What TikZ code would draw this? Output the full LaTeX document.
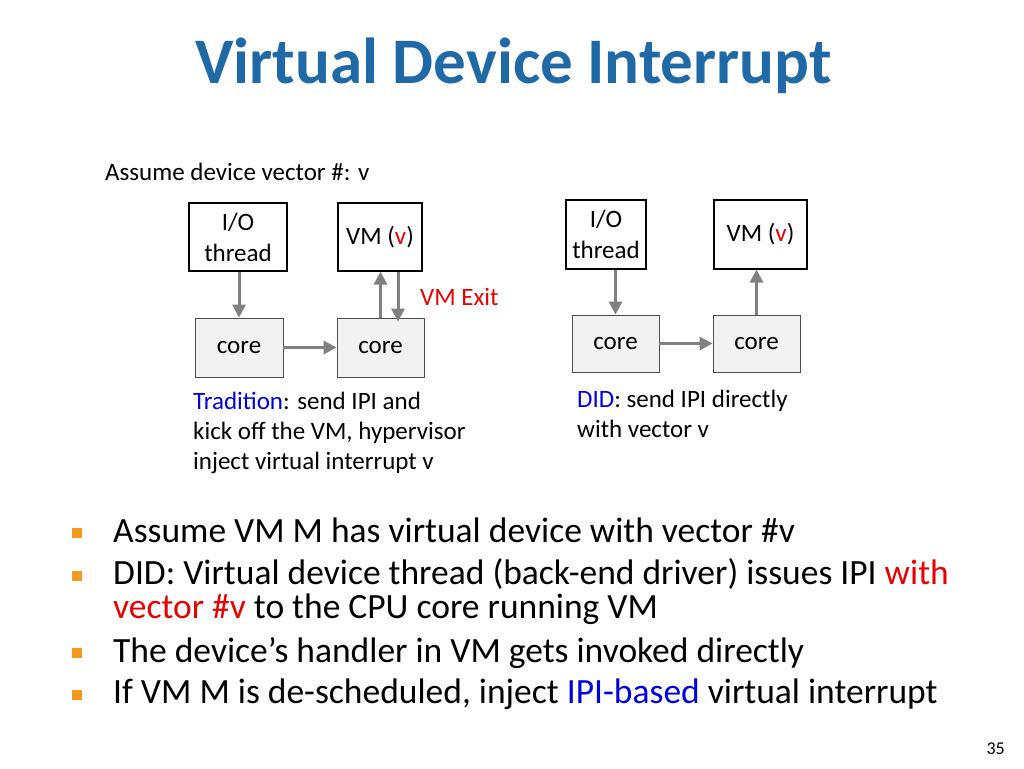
\documentclass[tikz,border=0pt]{standalone}
\usepackage{fontspec}
\setmainfont{Carlito}
\usetikzlibrary{arrows.meta}
\definecolor{titleblue}{RGB}{31,106,166}
\definecolor{slidered}{RGB}{230,0,0}
\definecolor{slideblue}{RGB}{0,0,220}
\definecolor{arrowgray}{RGB}{128,128,128}
\definecolor{corefill}{RGB}{242,242,242}
\definecolor{bulletorange}{RGB}{245,152,32}

\begin{document}
\begin{tikzpicture}[x=1pt,y=-1pt,>={Triangle[length=13pt,width=13pt]},
    box/.style={draw=black,line width=1.2pt,fill=white,align=center,inner sep=0pt,font=\fontsize{25}{31}\selectfont},
    corebox/.style={box,draw=black!70,line width=0.8pt,fill=corefill},
    link/.style={->,draw=arrowgray,line width=3pt},
    txt/.style={anchor=base west,inner sep=0pt,font=\fontsize{25}{30}\selectfont},
    bullet/.style={anchor=base west,inner sep=0pt,font=\fontsize{35.5}{40}\selectfont},
    sq/.style={fill=bulletorange,minimum size=10pt,inner sep=0pt}]
                        \useasboundingbox (0,0) rectangle (1024,768);
                        \node[anchor=base,inner sep=0pt,text=titleblue,font=\fontsize{65}{70}\selectfont\bfseries] (title) at (513.5,83) {Virtual Device Interrupt};
                        \node[txt] (assume) at (105,180) {Assume device vector \#: v};
                        % traditional path
                        \node[box,minimum width=98pt,minimum height=68pt] (io1) at (238,237) {I/O\\thread};
                        \node[box,minimum width=84pt,minimum height=68pt] (vm1) at (380,237) {VM (\textcolor{slidered}{v})};
                        \node[corebox,minimum width=88pt,minimum height=59pt] (core1a) at (239,347.5) {core};
                        \node[corebox,minimum width=87pt,minimum height=59pt] (core1b) at (380.5,347.5) {core};
                        \draw[link] (io1.south -| core1a.north) -- (core1a.north);
                        \draw[link] (core1a) -- (core1b);
                        \draw[link] (core1b.north) -- (core1b.north |- vm1.south);
                        \draw[link] ([xshift=18pt]vm1.south) -- ([xshift=17.5pt,yshift=-4pt]core1b.north);
                        \node[txt,text=slidered] (exit) at (420,305) {VM Exit};
                        \node[txt] (trad1) at (193,409) {\textcolor{slideblue}{Tradition}: send IPI and};
                        \node[txt] (trad2) at (193,439) {kick off the VM, hypervisor};
                        \node[txt] (trad3) at (193,469) {inject virtual interrupt v};
                        % DID path
                        \node[box,minimum width=80pt,minimum height=69pt] (io2) at (606,234.5) {I/O\\thread};
                        \node[box,minimum width=93pt,minimum height=69pt] (vm2) at (760.5,234.5) {VM (\textcolor{slidered}{v})};
                        \node[corebox,minimum width=87pt,minimum height=57pt] (core2a) at (615.5,343.5) {core};
                        \node[corebox,minimum width=87pt,minimum height=57pt] (core2b) at (756.5,343.5) {core};
                        \draw[link] (io2.south -| core2a.north) -- (core2a.north);
                        \draw[link] (core2a) -- (core2b);
                        \draw[link] (core2b.north) -- (core2b.north |- vm2.south);
                        \node[txt] (did1) at (577,407) {\textcolor{slideblue}{DID}: send IPI directly};
                        \node[txt] (did2) at (577,437) {with vector v};
                        % bullets
                        \node[sq] (sq1) at (77,533) {};
                        \node[sq] (sq2) at (77,576) {};
                        \node[sq] (sq3) at (77,653) {};
                        \node[sq] (sq4) at (77,695) {};
                        \node[bullet] (b1) at (113,542) {Assume VM M has virtual device with vector \#v};
                        \node[bullet] (b2) at (113,584) {DID: Virtual device thread (back-end driver) issues IPI \textcolor{slidered}{with}};
                        \node[bullet] (b2b) at (113,618) {\textcolor{slidered}{vector \#v} to the CPU core running VM};
                        \node[bullet] (b3) at (113,662) {The device’s handler in VM gets invoked directly};
                        \node[bullet] (b4) at (113,703) {If VM M is de-scheduled, inject \textcolor{slideblue}{IPI-based} virtual interrupt};
                        \node[anchor=base east,inner sep=0pt,font=\fontsize{18}{20}\selectfont] (page) at (1005,754) {35};
                    \end{tikzpicture}
\end{document}
